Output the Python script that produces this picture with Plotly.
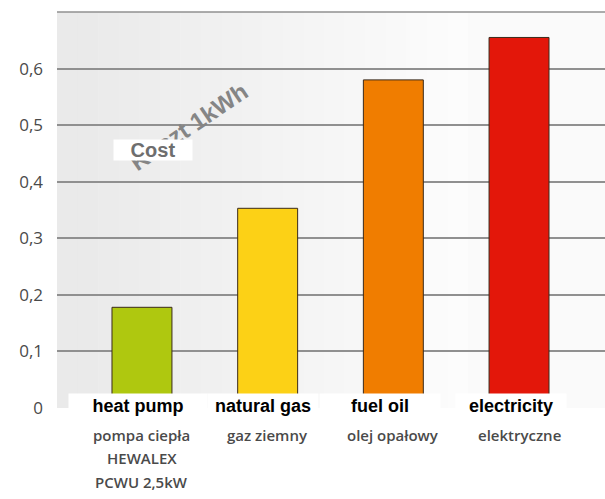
import plotly.graph_objects as go

# ---- data ----
categories = ["heat pump", "natural gas", "fuel oil", "electricity"]
costs = [0.178, 0.353, 0.580, 0.655]
polish_labels = [["pompa ciepła", "HEWALEX", "PCWU 2,5kW"], ["gaz ziemny"], ["olej opałowy"], ["elektryczne"]]
bar_colors = ["#afc80f", "#fcd116", "#f07d00", "#e3170a"]
y_tickvals = [0, 0.1, 0.2, 0.3, 0.4, 0.5, 0.6, 0.7]
y_ticktext = ["0", "0,1", "0,2", "0,3", "0,4", "0,5", "0,6", ""]

# label placement (layout, not data)
en_label_x = [-0.03, -0.04, -0.11, -0.064]
en_box_w = [138, 110, 120, 110]

fig = go.Figure()
fig.add_trace(go.Bar(
    x=list(range(len(categories))), y=costs, width=0.477,
    marker=dict(color=bar_colors, line=dict(color="#3a2a1a", width=1)),
    hoverinfo="skip",
))

# background gradient strips (light grey on the left fading to white)
shapes = []
n = 20
for i in range(n):
    x0 = i / n * 0.75
    x1 = (i + 1) / n * 0.75 + 0.001
    v = int(234 + (252 - 234) * i / (n - 1))
    shapes.append(dict(type="rect", xref="x domain", yref="y domain", x0=x0, x1=x1, y0=0, y1=1,
                       fillcolor=f"rgb({v},{v},{v})", line=dict(width=0), layer="below"))
shapes.append(dict(type="rect", xref="x domain", yref="y domain", x0=0.75, x1=1, y0=0, y1=1,
                   fillcolor="rgb(250,250,250)", line=dict(width=0), layer="below"))
# top gridline at the range edge
shapes.append(dict(type="line", xref="paper", yref="paper", x0=0, x1=1, y0=1, y1=1,
                   line=dict(color="#909090", width=1.5), layer="above"))

annotations = []
# rotated background title
annotations.append(dict(x=0.375, y=0.497, xref="x", yref="y", text="Koszt 1kWh", textangle=-34,
                        showarrow=False, font=dict(family="Liberation Sans, Arial", size=24, color="#858585", weight="bold")))
# Cost box
annotations.append(dict(x=0.0875, y=0.456, xref="x", yref="y", text="Cost", showarrow=False,
                        width=78, height=20, bgcolor="white", borderpad=0,
                        font=dict(family="Liberation Sans, Arial", size=20, color="#6e6e6e", weight="bold")))
# English labels
for i, c in enumerate(categories):
    annotations.append(dict(x=i + en_label_x[i], y=0, xref="x", yref="y", yshift=2, text=c, showarrow=False,
                            width=en_box_w[i], height=24, bgcolor="white", borderpad=0,
                            font=dict(family="Liberation Sans, Arial", size=18, color="black", weight="bold")))
# Polish labels
line_shifts = [-27, -50, -74]
for i, lines in enumerate(polish_labels):
    for j, t in enumerate(lines):
        annotations.append(dict(x=i, y=0, xref="x", yref="paper", yshift=line_shifts[j], text=t,
                                showarrow=False, yanchor="middle",
                                font=dict(family="Open Sans", size=15, color="#4a4a4a", weight=600)))

fig.update_layout(
    width=605, height=499,
    margin=dict(l=57, r=0, t=12, b=91),
    paper_bgcolor="white", plot_bgcolor="#fafafa",
    showlegend=False,
    shapes=shapes, annotations=annotations,
    xaxis=dict(range=[-0.676, 3.684], showticklabels=False, showgrid=False, zeroline=False, showline=False),
    yaxis=dict(range=[0, 0.7], tickvals=y_tickvals, ticktext=y_ticktext, showgrid=True,
               gridcolor="#909090", gridwidth=1.5, zeroline=False, showline=False,
               ticklabelstandoff=13,
               tickfont=dict(family="Open Sans", size=17, color="#4a4a4a")),
)

fig.write_html("out.html")
